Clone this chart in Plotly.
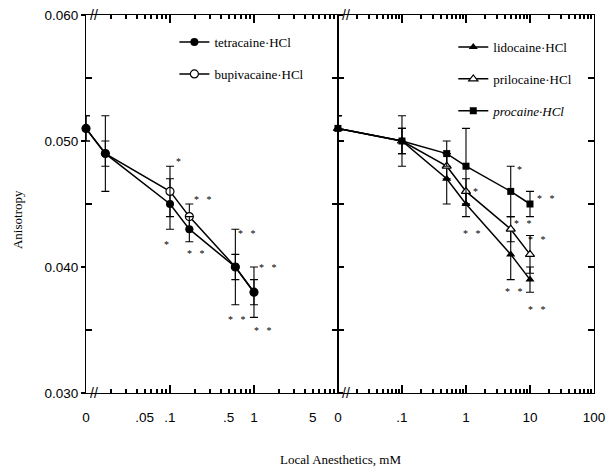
import math
import plotly.graph_objects as go

# concentrations (mM); 0 is drawn at the axis break
left_conc = [0, 0.017, 0.1, 0.17, 0.6, 1.0]
tetracaine = [0.051, 0.049, 0.045, 0.043, 0.040, 0.038]
tetracaine_err = [0.001, 0.003, 0.002, 0.001, 0.003, 0.002]
bupivacaine = [0.051, 0.049, 0.046, 0.044, 0.040, 0.038]
bupivacaine_err = [0.001, 0.001, 0.002, 0.001, 0.001, 0.001]

right_conc = [0, 0.1, 0.5, 1, 5, 10]
lidocaine = [0.051, 0.050, 0.047, 0.045, 0.041, 0.039]
lidocaine_err = [0.001, 0.001, 0.002, 0.001, 0.002, 0.001]
prilocaine = [0.051, 0.050, 0.048, 0.046, 0.043, 0.041]
prilocaine_err = [0.001, 0.001, 0.001, 0.001, 0.001, 0.0015]
procaine = [0.051, 0.050, 0.049, 0.048, 0.046, 0.045]
procaine_err = [0.001, 0.002, 0.001, 0.003, 0.002, 0.001]

left_labels = {0: "0", 0.05: ".05", 0.1: ".1", 0.5: ".5", 1: "1", 5: "5"}
right_labels = {0: "0", 0.1: ".1", 1: "1", 10: "10", 100: "100"}
y_ticks = [0.030, 0.040, 0.050, 0.060]
y_minor = [0.035, 0.045, 0.055]

# significance marks: (panel, conc, anisotropy, text)
stars = [
    (1, 0.126, 0.0486, "*"), (1, 0.247, 0.0456, "* *"), (1, 0.091, 0.0420, "*"),
    (1, 0.204, 0.0413, "* *"), (1, 0.837, 0.0429, "* *"), (1, 1.47, 0.0402, "* *"),
    (1, 0.622, 0.0361, "* *"), (1, 1.29, 0.0352, "* *"),
    (2, 6.98, 0.0480, "*"), (2, 17.9, 0.0457, "* *"), (2, 1.43, 0.0462, "*"),
    (2, 1.26, 0.0429, "* *"), (2, 7.87, 0.0437, "* *"), (2, 12.85, 0.0424, "* *"),
    (2, 5.66, 0.0383, "* *"), (2, 12.9, 0.0369, "* *"),
]

ZERO = 0.01  # position of "0" on the broken log axes
INK = "#000000"


def pos(c):
    return [ZERO if v == 0 else v for v in c]


def log_ticks(lo, hi, labels):
    # every 1..9 x decade tick, text only where the original has a label
    vals, text = [], []
    for d in range(lo, hi):
        for m in range(1, 10):
            v = round(m * 10 ** d, 6)
            if d == lo and m == 1:
                v = 0
            vals.append(v)
            text.append(labels.get(v, ""))
    vals.append(10 ** hi)
    text.append(labels.get(10 ** hi, ""))
    return pos(vals), text


fig = go.Figure()

err_style = dict(type="data", color=INK, thickness=1.1, width=4)
line_style = dict(color=INK, width=1.5)


def add(x, y, err, name, marker, xa, ya, legend, rank):
    fig.add_trace(go.Scatter(
        x=pos(x), y=y, name=name, mode="lines+markers",
        line=line_style, marker=marker,
        error_y=dict(array=err, **err_style),
        xaxis=xa, yaxis=ya, legend=legend, legendgroup=name, legendrank=rank,
        cliponaxis=False,
    ))


add(left_conc, bupivacaine, bupivacaine_err, "bupivacaine·HCl",
    dict(symbol="circle", size=8, color="white", line=dict(color=INK, width=1.2)),
    "x", "y", "legend", 2)
add(left_conc, tetracaine, tetracaine_err, "tetracaine·HCl",
    dict(symbol="circle", size=8, color=INK), "x", "y", "legend", 1)
add(right_conc, lidocaine, lidocaine_err, "lidocaine·HCl",
    dict(symbol="triangle-up", size=8, color=INK), "x2", "y2", "legend2", 1)
add(right_conc, prilocaine, prilocaine_err, "prilocaine·HCl",
    dict(symbol="triangle-up", size=8, color="white", line=dict(color=INK, width=1.2)),
    "x2", "y2", "legend2", 2)
add(right_conc, procaine, procaine_err, "<i>procaine·HCl</i>",
    dict(symbol="square", size=7, color=INK), "x2", "y2", "legend2", 3)

tick_font = dict(family="Liberation Sans", size=13.5, color=INK)
base = dict(showgrid=False, zeroline=False, tickcolor=INK, tickwidth=1.5, automargin=False)
lined = dict(showline=True, linecolor=INK, linewidth=1, mirror="ticks", **base)
tick_only = dict(showline=False, showticklabels=False, mirror="ticks", **base)

lv, lt = log_ticks(-2, 1, left_labels)
rv, rt = log_ticks(-2, 2, right_labels)

fig.update_layout(
    width=608, height=467,
    margin=dict(l=86, r=14, t=15, b=74),
    plot_bgcolor="white", paper_bgcolor="white",
    font=dict(family="Liberation Serif", size=13, color=INK),
    xaxis=dict(type="log", domain=[0, 0.496], range=[-2, 1], anchor="y",
               tickvals=lv, ticktext=lt, ticks="inside", ticklen=4,
               ticklabelstandoff=12, tickfont=tick_font, **lined),
    xaxis2=dict(type="log", domain=[0.496, 1], range=[-2, 2], anchor="y2",
                tickvals=rv, ticktext=rt, ticks="inside", ticklen=4,
                ticklabelstandoff=12, tickfont=tick_font, **lined),
    yaxis=dict(range=[0.030, 0.060], anchor="x", tickvals=y_ticks, tickformat=".3f",
               ticks="outside", ticklen=4, tickfont=tick_font, **lined),
    yaxis2=dict(range=[0.030, 0.060], anchor="x2", tickvals=y_ticks + y_minor,
                showticklabels=False, ticks="inside", ticklen=6, **lined),
    # overlay axes: long decade ticks and the short minor y ticks
    xaxis3=dict(type="log", overlaying="x", range=[-2, 1], anchor="y",
                tickvals=[0.1, 1], ticks="inside", ticklen=8, **tick_only),
    xaxis4=dict(type="log", overlaying="x2", range=[-2, 2], anchor="y2",
                tickvals=[0.1, 1, 10], ticks="inside", ticklen=8, **tick_only),
    yaxis3=dict(overlaying="y", range=[0.030, 0.060], anchor="x",
                tickvals=y_minor, ticks="inside", ticklen=6, **tick_only),
    legend=dict(x=0.174, y=0.968, xanchor="left", yanchor="top", bgcolor="rgba(0,0,0,0)",
                tracegroupgap=12, font=dict(family="Liberation Serif", size=13)),
    legend2=dict(x=0.723, y=0.955, xanchor="left", yanchor="top", bgcolor="rgba(0,0,0,0)",
                 tracegroupgap=12, font=dict(family="Liberation Serif", size=13)),
    showlegend=True,
)

# invisible traces so the overlay axes are drawn
for xa, ya in [("x3", "y3"), ("x4", "y2")]:
    fig.add_trace(go.Scatter(x=[ZERO], y=[0.045], xaxis=xa, yaxis=ya, mode="markers",
                             marker=dict(opacity=0), showlegend=False, hoverinfo="skip"))

for panel, cx, cy, txt in stars:
    xr = "x" if panel == 1 else "x2"
    yr = "y" if panel == 1 else "y2"
    fig.add_annotation(x=math.log10(cx), y=cy, xref=xr, yref=yr,
                       text=txt.replace(" ", "\u00a0\u00a0\u00a0"), showarrow=False,
                       font=dict(family="Liberation Serif", size=10, color=INK),
                       yshift=-3)

# axis break marks
for xr in ["x domain", "x2 domain"]:
    for yy in [0, 1]:
        fig.add_annotation(x=0.03, y=yy, xref=xr, yref="y domain", text="//",
                           xanchor="center", yanchor="middle", showarrow=False,
                           font=dict(family="Liberation Sans", size=14, color=INK))

fig.add_annotation(x=-0.136, y=0.46, xref="paper", yref="paper", text="Anisotropy",
                   textangle=-90, xanchor="center", yanchor="middle", showarrow=False,
                   font=dict(family="Liberation Serif", size=13, color=INK))
fig.add_annotation(x=0.5, y=-0.177, xref="paper", yref="paper",
                   text="Local Anesthetics, mM", xanchor="center", yanchor="middle",
                   showarrow=False, font=dict(family="Liberation Serif", size=13, color=INK))

# drop the page's default body margin so the figure sits at the window origin
fig.write_html("out.html", post_script="document.body.style.margin='0px';",
               config=dict(displayModeBar=False))
